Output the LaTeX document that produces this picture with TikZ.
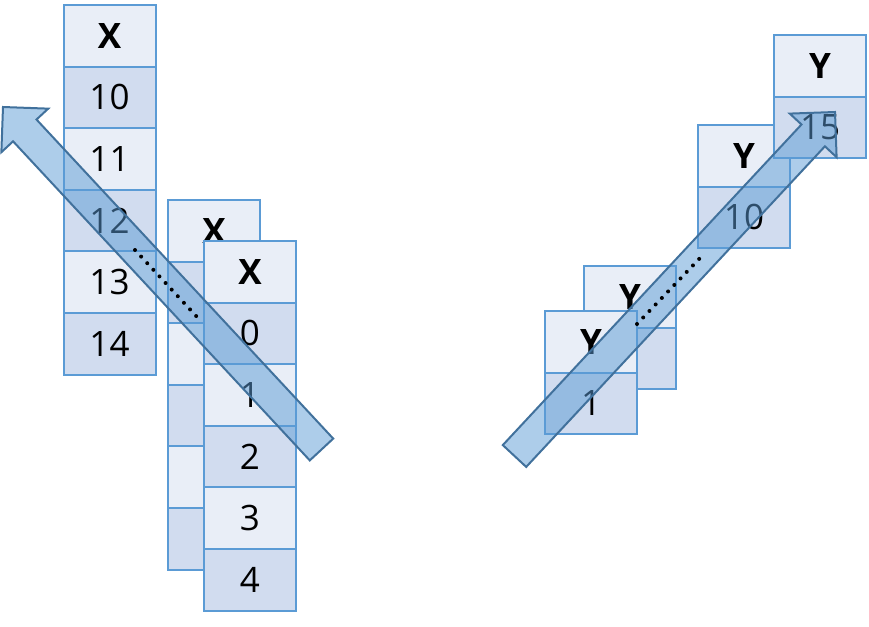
\documentclass[tikz,border=0pt]{standalone}
\usepackage{fontspec}
\setmainfont{Open Sans}
\usetikzlibrary{positioning,calc}
\definecolor{cellline}{HTML}{5B9BD5}
\definecolor{celllight}{HTML}{E9EEF7}
\definecolor{celldark}{HTML}{D1DCEF}
\definecolor{arrowfill}{HTML}{5B9BD5}
\definecolor{arrowline}{HTML}{41719C}
\begin{document}
\begin{tikzpicture}[x=1pt,y=-1pt,
    cell/.style={draw=cellline, line width=2pt, minimum width=92pt, minimum height=61.6pt, inner sep=0pt, outer sep=0pt, text=black, font=\fontsize{35}{42}\selectfont},
    hdr/.style={cell, fill=celllight, font=\fontsize{35}{42}\selectfont\bfseries},
    lt/.style={cell, fill=celllight},
    dk/.style={cell, fill=celldark},
    blockarrow/.style={draw=arrowline, line width=2pt, fill=arrowfill, fill opacity=0.5, line join=miter},
    dots/.style={line width=4pt, line cap=round, dash pattern=on 0pt off 9pt}]
    \useasboundingbox (0,0) rectangle (869,626);
    % left: X columns
    \node[hdr] (xa) at (109.5, 35.8) {X};
    \node[dk, below=0pt of xa] (xa1) {10};
    \node[lt, below=0pt of xa1] (xa2) {11};
    \node[dk, below=0pt of xa2] (xa3) {12};
    \node[lt, below=0pt of xa3] (xa4) {13};
    \node[dk, below=0pt of xa4] (xa5) {14};
    \node[hdr] (xb) at (214, 230.8) {X};
    \node[dk, below=0pt of xb] (xb1) {};
    \node[lt, below=0pt of xb1] (xb2) {};
    \node[dk, below=0pt of xb2] (xb3) {};
    \node[lt, below=0pt of xb3] (xb4) {};
    \node[dk, below=0pt of xb4] (xb5) {};
    \node[hdr] (xc) at (250, 271.8) {X};
    \node[dk, below=0pt of xc] (xc1) {0};
    \node[lt, below=0pt of xc1] (xc2) {1};
    \node[dk, below=0pt of xc2] (xc3) {2};
    \node[lt, below=0pt of xc3] (xc4) {3};
    \node[dk, below=0pt of xc4] (xc5) {4};
    % right: Y columns
    \node[hdr] (yb) at (630, 296.8) {Y};
    \node[dk, below=0pt of yb] (yb1) {};
    \node[hdr] (ya) at (591, 341.8) {Y};
    \node[dk, below=0pt of ya] (ya1) {1};
    \node[hdr] (yc) at (744, 155.8) {Y};
    \node[dk, below=0pt of yc] (yc1) {10};
    \node[hdr] (yd) at (820, 65.8) {Y};
    \node[dk, below=0pt of yd] (yd1) {15};
    % block arrows
    \coordinate (ltail) at (321.5, 449.5);
    \coordinate (lhead) at (3, 107);
    \coordinate (lbase) at ($(lhead)!32pt!(ltail)$);
    \draw[blockarrow] ($(ltail)!16pt!90:(lhead)$) -- ($(lbase)!16pt!90:(lhead)$) -- ($(lbase)!32pt!90:(lhead)$)
        -- (lhead) -- ($(lbase)!32pt!-90:(lhead)$) -- ($(lbase)!16pt!-90:(lhead)$) -- ($(ltail)!16pt!-90:(lhead)$) -- cycle;
    \coordinate (rtail) at (514.5, 456);
    \coordinate (rhead) at (835, 112);
    \coordinate (rbase) at ($(rhead)!32pt!(rtail)$);
    \draw[blockarrow] ($(rtail)!16pt!90:(rhead)$) -- ($(rbase)!16pt!90:(rhead)$) -- ($(rbase)!32pt!90:(rhead)$)
        -- (rhead) -- ($(rbase)!32pt!-90:(rhead)$) -- ($(rbase)!16pt!-90:(rhead)$) -- ($(rtail)!16pt!-90:(rhead)$) -- cycle;
    % dotted gaps
    \coordinate (ldot1) at (135, 250);
    \coordinate (ldot2) at (198, 318);
    \draw[dots] (ldot1) -- (ldot2);
    \coordinate (rdot1) at (637, 324);
    \coordinate (rdot2) at (701, 257);
    \draw[dots] (rdot1) -- (rdot2);
\end{tikzpicture}
\end{document}
